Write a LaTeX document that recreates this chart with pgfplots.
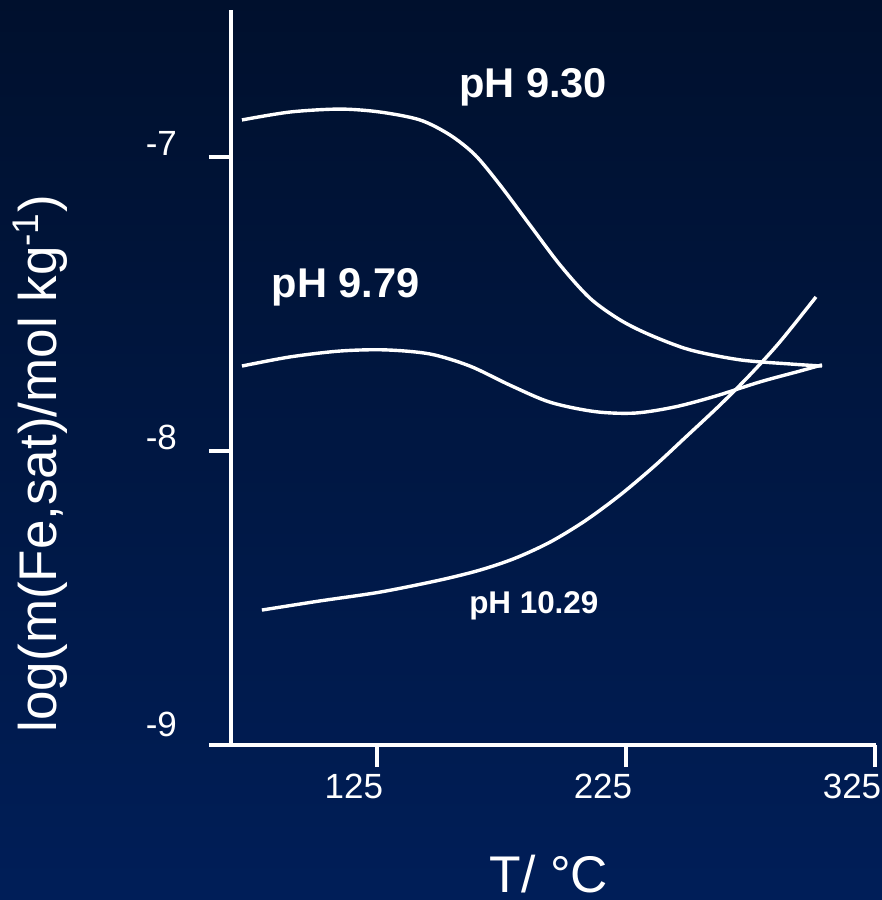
\documentclass[border=0pt]{standalone}
\usepackage{pgfplots}
\pgfplotsset{compat=1.18}
\usepackage{fontspec}
\setmainfont{Liberation Sans}
\definecolor{bgtop}{RGB}{0,16,45}
\definecolor{bgbot}{RGB}{0,30,88}

\begin{document}
\begin{tikzpicture}
\path[use as bounding box] (0pt,0pt) rectangle (441pt,450pt);
\shade[top color=bgtop, bottom color=bgbot] (0pt,0pt) rectangle (441pt,450pt);
\begin{axis}[
  at={(115.5pt,77.5pt)}, anchor=south west,
  scale only axis, width=322.5pt, height=367.5pt,
  xmin=66.4, xmax=325.4, ymin=-9, ymax=-6.5,
  clip=false,
  axis x line=bottom, axis y line=left,
  axis line style={white, line width=1.6pt, -},
  x axis line style={shorten <=-10.5pt},
  xtick={125,225,325}, ytick={-9,-8,-7},
  yticklabels={\raisebox{6.5pt}{-9},-8,-7},
  minor tick num=0,
  tick align=outside, major tick length=11pt,
  every tick/.style={white, line width=1.6pt},
  /pgf/number format/assume math mode=true,
  xticklabel style={white, font=\fontsize{17.5}{20}\selectfont, xshift=-11.5pt},
  yticklabel style={white, font=\fontsize{17.5}{20}\selectfont, yshift=7pt, xshift=-12.5pt},
  xlabel={T/ °C},
  ylabel={log(m(Fe,sat)/mol kg\textsuperscript{-1})},
  xlabel style={white, font=\fontsize{25.8}{30}\selectfont, at={(axis description cs:0.493,-0.2)}, anchor=base},
  ylabel style={white, font=\fontsize{26.5}{30}\selectfont, at={(axis description cs:-0.296,0.383)}, anchor=center, rotate=0},
]
% pH 9.30
\addplot[white, line width=1.7pt, smooth] coordinates {
  (70.8,-6.874) (90.1,-6.847) (110.1,-6.837) (126.2,-6.847) (142.3,-6.874)
  (154.3,-6.925) (164.4,-6.993) (174.4,-7.095) (186.4,-7.231) (198.5,-7.367)
  (210.5,-7.480) (222.6,-7.554) (234.6,-7.605) (250.7,-7.656) (270.8,-7.690)
  (290.9,-7.704) (303.7,-7.711)
};
% pH 9.79
\addplot[white, line width=1.7pt, smooth] coordinates {
  (70.8,-7.711) (90.1,-7.680) (110.1,-7.660) (128.2,-7.656) (146.3,-7.670)
  (162.3,-7.711) (178.4,-7.776) (194.5,-7.834) (212.5,-7.866) (228.6,-7.871)
  (244.7,-7.850) (260.7,-7.814) (278.8,-7.765) (294.9,-7.728) (303.7,-7.707)
};
% pH 10.29
\addplot[white, line width=1.7pt, smooth] coordinates {
  (78.8,-8.541) (102.1,-8.510) (126.2,-8.480) (150.3,-8.439) (166.4,-8.405)
  (180.4,-8.365) (194.5,-8.310) (208.5,-8.238) (222.6,-8.150) (236.6,-8.050)
  (248.7,-7.955) (262.7,-7.844) (274.8,-7.741) (286.8,-7.629) (301.3,-7.476)
};
\node[white, font=\bfseries\fontsize{20.8}{24}\selectfont] at (axis cs:187.7,-6.762) {pH 9.30};
\node[white, font=\bfseries\fontsize{20.8}{24}\selectfont] at (axis cs:112.5,-7.442) {pH 9.79};
\node[white, font=\bfseries\fontsize{15.7}{18}\selectfont] at (axis cs:188,-8.527) {pH 10.29};
\end{axis}
\end{tikzpicture}
\end{document}
